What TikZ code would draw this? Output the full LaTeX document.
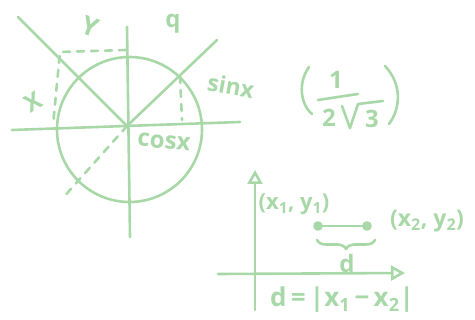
\documentclass[tikz,border=0pt]{standalone}
\usepackage{fontspec}
\setmainfont{Open Sans}
\usetikzlibrary{arrows.meta,decorations.pathreplacing}
\definecolor{pen}{RGB}{168,216,168}
\newcommand{\sbs}[1]{\textsubscript{#1}}
\begin{document}
\begin{tikzpicture}[x=1pt,y=-1pt,
  pen/.style={draw=pen,line width=2.6pt,line cap=round,line join=round},
  dsh/.style={pen,dash pattern=on 7pt off 7pt},
  lbl/.style={text=pen,inner sep=0pt,font=\fontsize{22}{22}\selectfont\bfseries},
  axarrow/.style={pen,-{Triangle[open,length=14pt,width=15pt,line width=2.6pt]}}]
\useasboundingbox (0,0) rectangle (475,320);
% unit circle sketch
\coordinate (O) at (127,126);
\coordinate (C) at (129.5,129.5);
\coordinate (hl) at (12,130);
\coordinate (hr) at (240,122);
\coordinate (vt) at (127,27);
\coordinate (vb) at (130,237);
\coordinate (ul) at (18,17);
\coordinate (ur) at (217,40);
\coordinate (dl) at (62,199);
\coordinate (P) at (180,76);
\coordinate (Pf) at (182,120);
\coordinate (rtr) at (126,50);
\coordinate (rtl) at (60,52);
\coordinate (rbl) at (53,125);
\draw[pen] (C) circle[radius=72.5];
\draw[pen] (hl) -- (hr);
\draw[pen] (vt) -- (vb);
\draw[pen] (ul) -- (O);
\draw[pen] (O) -- (ur);
\draw[dsh] (O) -- (dl);
\draw[dsh] (P) -- (Pf);
\draw[dsh] (rtr) -- (rtl) -- (rbl);
\node[lbl,rotate=-20,font=\fontsize{26}{26}\selectfont\bfseries] (ylab) at (90,27) {Y};
\node[lbl,rotate=30,font=\fontsize{24}{24}\selectfont\bfseries] (xlab) at (33,102) {X};
\node[lbl,font=\fontsize{24}{24}\selectfont\bfseries] (q) at (173,24) {q};
\node[lbl,rotate=-10,font=\fontsize{23}{23}\selectfont\bfseries] (sin) at (231,86) {sinx};
\node[lbl,rotate=-6,font=\fontsize{24}{24}\selectfont\bfseries] (cos) at (164,142) {cosx};
% fraction, drawn by hand
\node[lbl,font=\fontsize{24}{24}\selectfont\bfseries] (one) at (336,80) {1};
\node[lbl,font=\fontsize{24}{24}\selectfont\bfseries] (two) at (329,118) {2};
\node[lbl,font=\fontsize{24}{24}\selectfont\bfseries] (three) at (372,119) {3};
\coordinate (fb1) at (318,100);
\coordinate (fb2) at (358,94);
\draw[pen] (fb1) -- (fb2);
\coordinate (r1) at (342,106);
\coordinate (r2) at (350,128);
\coordinate (r3) at (358,104);
\coordinate (r4) at (383,101);
\draw[pen] (r1) -- (r2) -- (r3) -- (r4);
\coordinate (lp1) at (309,67);
\coordinate (lp2) at (312,114);
\draw[pen] (lp1) .. controls (298,82) and (300,104) .. (lp2);
\coordinate (rp1) at (385,66);
\coordinate (rp2) at (389,124);
\draw[pen] (rp1) .. controls (402,84) and (401,108) .. (rp2);
% graph
\coordinate (vb2) at (255,310);
\coordinate (vt2) at (255,170);
\coordinate (hl2) at (218,274);
\coordinate (hr2) at (405,273);
\draw[axarrow] (vb2) -- (vt2);
\draw[axarrow] (hl2) -- (hr2);
\coordinate (A) at (318,226);
\coordinate (B) at (367,226);
\draw[pen] (A) -- (B);
\fill[pen,fill=pen] (A) circle[radius=3.5];
\fill[pen,fill=pen] (B) circle[radius=3.5];
\draw[pen,decorate,decoration={brace,amplitude=9pt,mirror}] (317,240) -- (375,240);
\node[lbl] (p1) at (294,204) {(x\sbs{1}, y\sbs{1})};
\node[lbl,font=\fontsize{23}{23}\selectfont\bfseries] (p2) at (427,221) {(x\sbs{2}, y\sbs{2})};
\node[lbl,font=\fontsize{24}{24}\selectfont\bfseries] (d) at (347,264) {d};
\node[lbl,font=\fontsize{26}{26}\selectfont\bfseries] (eq) at (342,300) {d\,=\,|x\sbs{1}\,−\,x\sbs{2}|};
\end{tikzpicture}
\end{document}
